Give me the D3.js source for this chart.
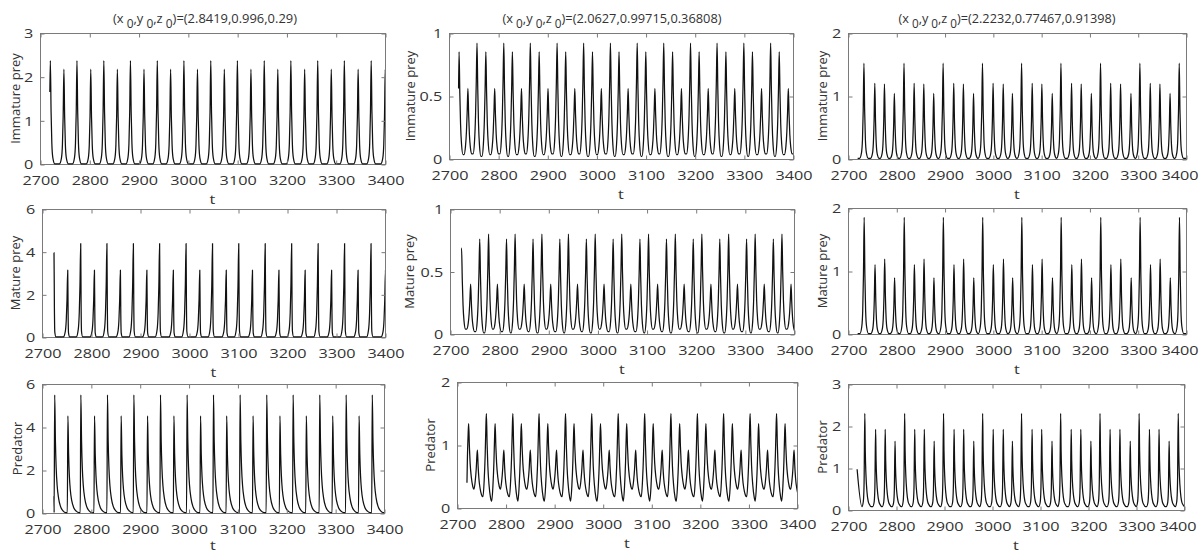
<!DOCTYPE html>
<html>
<head>
<meta charset="utf-8">
<script src="https://cdn.jsdelivr.net/npm/d3@7"></script>
<style>
  body { margin: 0; background: #fff; }
  svg { display: block; }
  text { font-family: "Open Sans", sans-serif; fill: #333; }
</style>
</head>
<body>
<svg id="chart" width="1199" height="553"></svg>
<script>
// ---- shared axis ticks ----
const xTicks = [2700, 2800, 2900, 3000, 3100, 3200, 3300, 3400];
const titleNums = ["(2.8419,0.996,0.29)", "(2.0627,0.99715,0.36808)", "(2.2232,0.77467,0.91398)"];
const rowLabels = ["Immature prey", "Mature prey", "Predator"];

// ---- column 1: peak times / peak heights / baseline ----
const aImmT = [2721, 2748.5, 2775, 2803, 2829.5, 2857, 2883.5, 2911, 2938, 2965, 2992, 3019.5, 3046.5,
  3074, 3100.5, 3128, 3155, 3182.5, 3209, 3237, 3263.5, 3291, 3317.5, 3345.5, 3372, 3400.5];
const aImmV = [2.37, 2.17, 2.37, 2.17, 2.37, 2.17, 2.37, 2.17, 2.37, 2.17, 2.37, 2.17, 2.37,
  2.17, 2.37, 2.17, 2.37, 2.17, 2.37, 2.17, 2.37, 2.17, 2.37, 2.17, 2.37, 2.17];
const aImmLow = 0.005;
const aImmStart = [2720, 1.65];
const aImmTicks = [0, 1, 2, 3];

const aMatT = [2724.5, 2752.5, 2779, 2807, 2832.5, 2860, 2886.5, 2914, 2940, 2968, 2994, 3022, 3048,
  3076, 3101.5, 3129.5, 3155.5, 3183.5, 3209.5, 3237, 3263.5, 3291, 3317.5, 3345, 3371.5, 3401];
const aMatV = [3.95, 3.13, 4.38, 3.13, 4.38, 3.13, 4.38, 3.13, 4.38, 3.13, 4.38, 3.13, 4.38,
  3.13, 4.38, 3.13, 4.38, 3.13, 4.38, 3.13, 4.38, 3.13, 4.38, 3.13, 4.38, 3.13];
const aMatLow = 0.005;
const aMatStart = [2724.4, 3.95];
const aMatTicks = [0, 2, 4, 6];

const aPredT = [2726, 2753, 2779.5, 2807.5, 2834, 2862, 2888, 2916, 2942.5, 2970, 2997, 3024.5, 3051,
  3078, 3105.5, 3132, 3160, 3187, 3214, 3241, 3268.5, 3295, 3322.5, 3349, 3376];
const aPredV = [5.5, 4.52, 5.5, 4.52, 5.5, 4.52, 5.5, 4.52, 5.5, 4.52, 5.5, 4.52, 5.5,
  4.52, 5.5, 4.52, 5.5, 4.52, 5.5, 4.52, 5.5, 4.52, 5.5, 4.52, 5.5];
const aPredLow = 0.02;
const aPredStart = [2724.5, 0.78];
const aPredTicks = [0, 2, 4, 6];

// ---- column 2 ----
const bImmT = [2720.5, 2738.5, 2757, 2775, 2793, 2811.5, 2829, 2847.5, 2865.5, 2883.5, 2901.5, 2920,
  2937.5, 2956, 2974, 2992, 3010, 3028.5, 3046, 3064.5, 3083, 3100.5, 3119, 3137, 3155, 3173, 3191.5,
  3209, 3227.5, 3245.5, 3263.5, 3281.5, 3300, 3317.5, 3336, 3354.5, 3372, 3390.5];
const bImmV = [0.85, 0.56, 0.92, 0.85, 0.56, 0.92, 0.85, 0.56, 0.92, 0.85, 0.56, 0.92,
  0.85, 0.56, 0.92, 0.85, 0.56, 0.92, 0.85, 0.56, 0.92, 0.85, 0.56, 0.92, 0.85, 0.56, 0.92,
  0.85, 0.56, 0.92, 0.85, 0.56, 0.92, 0.85, 0.56, 0.92, 0.85, 0.56];
const bImmLow = [0.035, 0.04, 0.02, 0.035, 0.04, 0.02, 0.035, 0.04, 0.02, 0.035, 0.04, 0.02,
  0.035, 0.04, 0.02, 0.035, 0.04, 0.02, 0.035, 0.04, 0.02, 0.035, 0.04, 0.02, 0.035, 0.04, 0.02,
  0.035, 0.04, 0.02, 0.035, 0.04, 0.02, 0.035, 0.04, 0.02, 0.035, 0.04];
const bImmStart = [2719.5, 0.56];
const bImmTicks = [0, 0.5, 1];

const bMatT = [2723.5, 2742, 2760.5, 2778.5, 2796.5, 2815, 2832.5, 2851, 2869, 2887, 2905, 2923.5,
  2941, 2959.5, 2977.5, 2995.5, 3013.5, 3032, 3049.5, 3068, 3086.5, 3104, 3122.5, 3140.5, 3158.5,
  3176.5, 3195, 3212.5, 3231, 3249, 3267, 3285, 3303.5, 3321, 3339.5, 3358, 3375.5, 3394];
const bMatV = [0.69, 0.4, 0.76, 0.8, 0.4, 0.76, 0.8, 0.4, 0.76, 0.8, 0.4, 0.76,
  0.8, 0.4, 0.76, 0.8, 0.4, 0.76, 0.8, 0.4, 0.76, 0.8, 0.4, 0.76, 0.8, 0.4, 0.76,
  0.8, 0.4, 0.76, 0.8, 0.4, 0.76, 0.8, 0.4, 0.76, 0.8, 0.4];
const bMatLow = [0.04, 0.02, 0.01, 0.04, 0.02, 0.01, 0.04, 0.02, 0.01, 0.04, 0.02, 0.01,
  0.04, 0.02, 0.01, 0.04, 0.02, 0.01, 0.04, 0.02, 0.01, 0.04, 0.02, 0.01, 0.04, 0.02, 0.01,
  0.04, 0.02, 0.01, 0.04, 0.02, 0.01, 0.04, 0.02, 0.01, 0.04, 0.02];
const bMatStart = [2723.4, 0.69];
const bMatTicks = [0, 0.5, 1];

const bPredT = [2724, 2742, 2760.5, 2778.5, 2796.5, 2815, 2832.5, 2851, 2869, 2887, 2905, 2923.5,
  2941, 2959.5, 2977.5, 2995.5, 3013.5, 3032, 3049.5, 3068, 3086.5, 3104, 3122.5, 3140.5, 3158.5,
  3176.5, 3195, 3212.5, 3231, 3249, 3267, 3285, 3303.5, 3321, 3339.5, 3358, 3375.5, 3394];
const bPredV = [1.34, 0.92, 1.5, 1.34, 0.92, 1.5, 1.34, 0.92, 1.5, 1.34, 0.92, 1.5,
  1.34, 0.92, 1.5, 1.34, 0.92, 1.5, 1.34, 0.92, 1.5, 1.34, 0.92, 1.5, 1.34, 0.92, 1.5,
  1.34, 0.92, 1.5, 1.34, 0.92, 1.5, 1.34, 0.92, 1.5, 1.34, 0.92];
const bPredLow = [0.3, 0.18, 0.11, 0.3, 0.18, 0.11, 0.3, 0.18, 0.11, 0.3, 0.18, 0.11,
  0.3, 0.18, 0.11, 0.3, 0.18, 0.11, 0.3, 0.18, 0.11, 0.3, 0.18, 0.11, 0.3, 0.18, 0.11,
  0.3, 0.18, 0.11, 0.3, 0.18, 0.11, 0.3, 0.18, 0.11, 0.3, 0.18];
const bPredStart = [2720.5, 0.4];
const bPredTicks = [0, 1, 2];

// ---- column 3 ----
const cImmT = [2733, 2755.5, 2775.5, 2796, 2816, 2837, 2857, 2877.5, 2897, 2919, 2939, 2960, 2978.5,
  3000.5, 3021.5, 3040.5, 3059.5, 3081.5, 3101.5, 3123, 3141, 3163, 3183, 3204, 3223, 3244, 3264.5,
  3286, 3304.5, 3326, 3346, 3367, 3386];
const cImmV = [1.52, 1.2, 1.19, 1.04, 1.52, 1.2, 1.19, 1.04, 1.52, 1.2, 1.19, 1.04, 1.52, 1.2, 1.19, 1.04,
  1.52, 1.2, 1.19, 1.04, 1.52, 1.2, 1.19, 1.04, 1.52, 1.2, 1.19, 1.04, 1.52, 1.2, 1.19, 1.04, 1.52];
const cImmLow = 0.01;
const cImmStart = [2720, 0.01];
const cImmTicks = [0, 1, 2];

const cMatT = [2733.5, 2756, 2776, 2796.5, 2816.5, 2837.5, 2857.5, 2878, 2897.5, 2919.5, 2939.5, 2960.5,
  2979, 3001, 3022, 3041, 3060, 3082, 3102, 3123.5, 3141.5, 3163.5, 3183.5, 3204.5, 3223.5, 3244.5,
  3265, 3286.5, 3305, 3326.5, 3346.5, 3367.5, 3386.5];
const cMatV = [1.85, 1.1, 1.19, 0.89, 1.85, 1.1, 1.19, 0.89, 1.85, 1.1, 1.19, 0.89, 1.85, 1.1, 1.19, 0.89,
  1.85, 1.1, 1.19, 0.89, 1.85, 1.1, 1.19, 0.89, 1.85, 1.1, 1.19, 0.89, 1.85, 1.1, 1.19, 0.89, 1.85];
const cMatLow = 0.005;
const cMatStart = [2720, 0.005];
const cMatTicks = [0, 1, 2];

const cPredT = [2735, 2757.5, 2777.5, 2798, 2818, 2839, 2859, 2879.5, 2899, 2921, 2941, 2962, 2980.5,
  3002.5, 3023.5, 3042.5, 3061.5, 3083.5, 3103.5, 3125, 3143, 3165, 3185, 3206, 3225, 3246, 3266.5,
  3288, 3306.5, 3328, 3348, 3369, 3388];
const cPredV = [2.3, 1.92, 1.92, 1.64, 2.3, 1.92, 1.92, 1.64, 2.3, 1.92, 1.92, 1.64, 2.3, 1.92, 1.92, 1.64,
  2.3, 1.92, 1.92, 1.64, 2.3, 1.92, 1.92, 1.64, 2.3, 1.92, 1.92, 1.64, 2.3, 1.92, 1.92, 1.64, 2.3];
const cPredLow = 0.08;
const cPredStart = [2719, 0.97];
const cPredTicks = [0, 1, 2, 3];

// spike outlines: [time offset from peak, fraction of peak above baseline]
const shapes = {
  spike: { rise: [[-9, 0], [-5, 0.06], [-3, 0.2], [-1.5, 0.5], [0, 1]], fall: [[1.5, 0.5], [3, 0.2], [5, 0.06], [9, 0]] },
  spikeFast: { rise: [[-9, 0], [-5, 0.08], [-3, 0.25], [-1.5, 0.55], [0, 1]], fall: [[0.8, 0.35], [1.6, 0.06], [4, 0]] },
  predA: { rise: [[-1.2, 0], [0, 1]], fall: [[1.5, 0.6], [3, 0.38], [5, 0.23], [8, 0.12], [12, 0.05], [17, 0.015], [23, 0]] },
  wave: { rise: [[-8, 0], [-5, 0.12], [-3, 0.35], [-1.5, 0.65], [0, 1]], fall: [[1.5, 0.6], [3, 0.3], [5, 0.1], [8, 0]] },
  predB: { rise: [[-7, 0], [-4.5, 0.2], [-2.5, 0.5], [-1, 0.85], [0, 1]], fall: [[1.5, 0.65], [3, 0.4], [5.5, 0.18], [8.5, 0.04], [10.5, 0]] },
  predC: { rise: [[-6, 0], [-3, 0.06], [-1.5, 0.25], [0, 1]], fall: [[1, 0.6], [2.5, 0.33], [4.5, 0.16], [7, 0.06], [10, 0.02], [13, 0]] }
};

const panels = [
  { col: 0, row: 0, box: [40, 385, 33, 164], lx: 15, T: aImmT, V: aImmV, low: aImmLow, start: aImmStart, ymax: 3, yt: aImmTicks, shape: "spike" },
  { col: 0, row: 1, box: [42, 385, 209, 337], lx: 15, T: aMatT, V: aMatV, low: aMatLow, start: aMatStart, ymax: 6, yt: aMatTicks, shape: "spikeFast" },
  { col: 0, row: 2, box: [42, 384, 384, 513], lx: 17, T: aPredT, V: aPredV, low: aPredLow, start: aPredStart, ymax: 6, yt: aPredTicks, shape: "predA" },
  { col: 1, row: 0, box: [449, 793, 33, 159], lx: 410, T: bImmT, V: bImmV, low: bImmLow, start: bImmStart, ymax: 1, yt: bImmTicks, shape: "wave" },
  { col: 1, row: 1, box: [450, 794, 209, 334], lx: 409, T: bMatT, V: bMatV, low: bMatLow, start: bMatStart, ymax: 1, yt: bMatTicks, shape: "wave" },
  { col: 1, row: 2, box: [457, 797, 382, 508], lx: 430, T: bPredT, V: bPredV, low: bPredLow, start: bPredStart, ymax: 2, yt: bPredTicks, shape: "predB" },
  { col: 2, row: 0, box: [848, 1186, 33, 159], lx: 822, T: cImmT, V: cImmV, low: cImmLow, start: cImmStart, ymax: 2, yt: cImmTicks, shape: "spike" },
  { col: 2, row: 1, box: [848, 1186, 208, 334], lx: 822, T: cMatT, V: cMatV, low: cMatLow, start: cMatStart, ymax: 2, yt: cMatTicks, shape: "spike" },
  { col: 2, row: 2, box: [848, 1184, 384, 510], lx: 822, T: cPredT, V: cPredV, low: cPredLow, start: cPredStart, ymax: 3, yt: cPredTicks, shape: "predC" }
];

const titlePos = [[205, 184], [612, 219], [1007, 217]];
const stretch = "scale(1.2,1)";
const axisCol = "#7a7a7a";

// turn peak list into knots of the trace
function buildKnots(T, V, low, shape, start) {
  const lo = i => Array.isArray(low) ? low[Math.min(i, low.length - 1)] : low;
  const pts = start ? [start] : [];
  T.forEach((t, i) => {
    const h = V[i];
    const lb = lo(Math.max(i - 1, 0));
    shape.rise.forEach(([dt, f]) => {
      const tt = t + dt;
      if (!pts.length || tt > pts[pts.length - 1][0]) pts.push([tt, lb + f * (h - lb)]);
    });
    const la = lo(i);
    const limit = i < T.length - 1 ? T[i + 1] + shape.rise[0][0] : Infinity;
    shape.fall.forEach(([dt, f]) => {
      const tt = t + dt;
      if (tt < limit && tt > pts[pts.length - 1][0]) pts.push([tt, la + f * (h - la)]);
    });
  });
  const last = pts[pts.length - 1];
  pts.push([Math.max(last[0] + 5, 3420), lo(T.length - 1)]);
  return pts;
}

const svg = d3.select("#chart");
const fmt = d => String(d);

panels.forEach((p, k) => {
  const [l, r, t, b] = p.box;
  const x = d3.scaleLinear().domain([2700, 3400]).range([l, r]);
  const y = d3.scaleLinear().domain([0, p.ymax]).range([b, t]);
  const g = svg.append("g");

  g.append("clipPath").attr("id", "clip" + k)
    .append("rect").attr("x", l).attr("y", t - 1).attr("width", r - l).attr("height", b - t + 2);

  g.append("rect")
    .attr("x", l + 0.5).attr("y", t + 0.5)
    .attr("width", r - l).attr("height", b - t)
    .attr("fill", "none").attr("stroke", axisCol).attr("stroke-width", 1);

  const line = d3.line().x(d => x(d[0])).y(d => y(d[1])).curve(d3.curveMonotoneX);
  g.append("path")
    .datum(buildKnots(p.T, p.V, p.low, shapes[p.shape], p.start))
    .attr("clip-path", `url(#clip${k})`)
    .attr("fill", "none").attr("stroke", "#111").attr("stroke-width", 1.25)
    .attr("stroke-linejoin", "round")
    .attr("d", line);

  const bottom = g.append("g").attr("transform", `translate(0.5,${b + 0.5})`)
    .call(d3.axisBottom(x).tickValues(xTicks).tickSizeInner(-4).tickSizeOuter(0).tickPadding(11).tickFormat(fmt));
  const top = g.append("g").attr("transform", `translate(0.5,${t + 0.5})`)
    .call(d3.axisTop(x).tickValues(xTicks).tickSizeInner(-4).tickSizeOuter(0).tickFormat(""));
  const left = g.append("g").attr("transform", `translate(${l + 0.5},0.5)`)
    .call(d3.axisLeft(y).tickValues(p.yt).tickSizeInner(-4).tickSizeOuter(0).tickPadding(6).tickFormat(fmt));
  const right = g.append("g").attr("transform", `translate(${r + 0.5},0.5)`)
    .call(d3.axisRight(y).tickValues(p.yt).tickSizeInner(-4).tickSizeOuter(0).tickFormat(""));

  [bottom, top, left, right].forEach(a => {
    a.select(".domain").remove();
    a.selectAll(".tick line").attr("stroke", axisCol);
    a.selectAll(".tick text")
      .attr("fill", "#333").attr("font-size", 13.5)
      .attr("font-family", "'Open Sans', sans-serif")
      .attr("transform", stretch);
  });

  // keep the last x label of the right-hand column inside the picture
  if (r > 1180) {
    bottom.selectAll(".tick text").filter(d => d === 3400)
      .attr("transform", `translate(-7,0) ${stretch}`);
  }

  // axis titles
  g.append("text")
    .attr("transform", `translate(${(l + r) / 2},${Math.min(b + 35, 545)}) ${stretch}`)
    .attr("text-anchor", "middle").attr("dominant-baseline", "central")
    .attr("font-size", 13.5).text("t");

  g.append("text")
    .attr("transform", `translate(${p.lx},${(t + b) / 2}) rotate(-90)`)
    .attr("text-anchor", "middle").attr("dominant-baseline", "central")
    .attr("font-size", 13).text(rowLabels[p.row]);
});

// column titles with subscripts
titleNums.forEach((s, i) => {
  const [cx, w] = titlePos[i];
  const txt = svg.append("text")
    .attr("x", cx).attr("y", 23)
    .attr("text-anchor", "middle").attr("font-size", 13)
    .attr("textLength", w).attr("lengthAdjust", "spacingAndGlyphs");
  const parts = [["(x", 0], ["0", 1], [",y", 0], ["0", 1], [",z", 0], ["0", 1], [")=" + s, 0]];
  let prevSub = 0;
  parts.forEach(([str, sub]) => {
    const dy = sub === prevSub ? 0 : (sub ? 5 : -5);
    txt.append("tspan").attr("dy", dy)
      .attr("font-size", sub ? 12 : 13)
      .text(sub ? " " + str : str);
    prevSub = sub;
  });
});
</script>
</body>
</html>
